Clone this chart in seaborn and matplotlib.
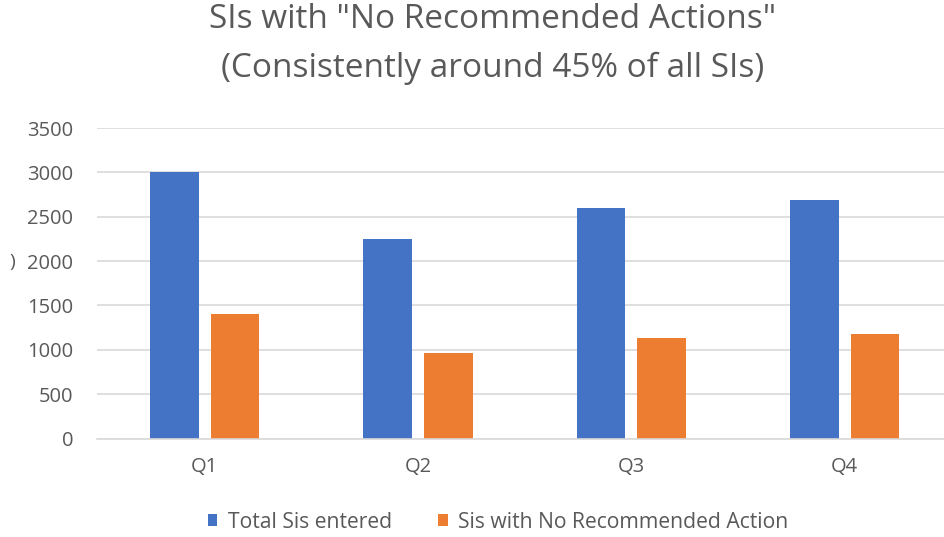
import matplotlib
matplotlib.use("Agg")
import matplotlib.pyplot as plt
import seaborn as sns
import pandas as pd

quarters = ["Q1", "Q2", "Q3", "Q4"]
series_names = ["Total Sis entered", "Sis with No Recommended Action"]
total_entered = [3000, 2250, 2600, 2690]
no_action = [1400, 970, 1130, 1180]
y_ticks = [0, 500, 1000, 1500, 2000, 2500, 3000, 3500]
title = 'SIs with "No Recommended Actions"\n(Consistently around 45% of all SIs)'

df = pd.DataFrame({
    "quarter": quarters * 2,
    "series": [series_names[0]] * 4 + [series_names[1]] * 4,
    "value": total_entered + no_action,
})

sns.set_theme(style="white")
plt.rcParams["font.family"] = ["Open Sans", "DejaVu Sans"]

grey = "#595959"
fig = plt.figure(figsize=(9.45, 5.37), dpi=100)
ax = fig.add_axes([97 / 945, 1 - 438.6 / 537, (945 - 97) / 945, (438.6 - 128) / 537])

sns.barplot(data=df, x="quarter", y="value", hue="series",
            palette=["#4472c4", "#ed7d31"], width=0.57, gap=0.2,
            ax=ax, legend=True, saturation=1, linewidth=0)

ax.set_ylim(0, 3500)
ax.set_xlim(-0.505, 3.47)
ax.set_yticks(y_ticks)
ax.set_yticklabels([str(t) for t in y_ticks])
ax.yaxis.grid(True, color="#d9d9d9", linewidth=1.2)
ax.set_axisbelow(True)
for s in ["top", "right", "left"]:
    ax.spines[s].set_visible(False)
ax.spines["bottom"].set_color("#d9d9d9")
ax.spines["bottom"].set_linewidth(1.2)
ax.tick_params(axis="both", length=0, colors=grey, labelsize=14.5)
ax.tick_params(axis="y", pad=17)
ax.tick_params(axis="x", pad=13)
ax.set_xlabel("")
ax.set_ylabel("")

handles, labels = ax.get_legend_handles_labels()
ax.legend(handles, labels, loc="center", bbox_to_anchor=(498 / 945, 1 - 522 / 537),
          bbox_transform=fig.transFigure, ncol=2, frameon=False,
          fontsize=15.2, labelcolor=grey, handlelength=0.45, handleheight=0.45,
          handletextpad=0.5, columnspacing=2.2)

fig.text(493 / 945, 1 - 44 / 537, title, ha="center", va="center",
         fontsize=24, color=grey, linespacing=1.6)
fig.text(12 / 945, 1 - 262 / 537, ")", ha="center", va="center",
         fontsize=14, color=grey)

fig.savefig("out.png", dpi=100)
